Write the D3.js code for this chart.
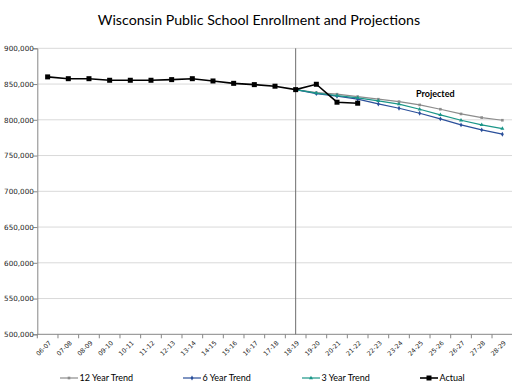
<!DOCTYPE html>
<html>
<head>
<meta charset="utf-8">
<script src="https://cdnjs.cloudflare.com/ajax/libs/d3/7.8.5/d3.min.js"></script>
<style>
  html, body { margin: 0; padding: 0; background: #fff; }
  svg { display: block; }
</style>
</head>
<body>
<svg id="chart" width="512" height="390"></svg>
<script>
// Data (thousands of students)
const years = ["06-07","07-08","08-09","09-10","10-11","11-12","12-13","13-14","14-15","15-16","16-17","17-18","18-19",
  "19-20","20-21","21-22","22-23","23-24","24-25","25-26","26-27","27-28","28-29"];
const actual = [860, 857.5, 857.5, 855.3, 855.3, 855.3, 856.2, 857.5, 854.3, 851, 849.2, 847, 842.2, 849.7, 824.6, 823.2];
const projStart = "18-19";
const projYears = ["18-19","19-20","20-21","21-22","22-23","23-24","24-25","25-26","26-27","27-28","28-29"];
const trend12 = [842.2, 838.0, 835.8, 832.4, 828.8, 825.4, 820.8, 814.8, 808.2, 803.1, 799.4];
const trend6  = [842.2, 836.6, 833.0, 828.8, 822.2, 816.2, 809.2, 801.3, 792.9, 785.9, 779.9];
const trend3  = [842.2, 837.2, 833.9, 830.6, 826.4, 821.8, 814.8, 806.8, 799.4, 792.9, 787.7];
const yTicks = [500, 550, 600, 650, 700, 750, 800, 850, 900];

const svg = d3.select("#chart");
const margin = { left: 37.3, right: -0.7, top: 48.3, bottom: 55.7 };
const W = 512, H = 390;
const iW = W - margin.left - margin.right;
const iH = H - margin.top - margin.bottom;

const x = d3.scaleBand().domain(years).range([margin.left, margin.left + iW]);
const xc = d => x(d) + x.bandwidth() / 2;
const y = d3.scaleLinear().domain([500, 900]).range([margin.top + iH, margin.top]);

// Title
svg.append("text").attr("x", 259).attr("y", 25)
  .attr("text-anchor", "middle").attr("font-family", "Lato, 'Open Sans', sans-serif")
  .attr("font-size", 14.2).attr("fill", "#000")
  .text("Wisconsin Public School Enrollment and Projections");

// Gridlines
svg.append("g").selectAll("line").data(yTicks.filter(t => t > 500)).join("line")
  .attr("x1", margin.left).attr("x2", margin.left + iW)
  .attr("y1", d => y(d)).attr("y2", d => y(d))
  .attr("stroke", "#d9d9d9").attr("stroke-width", 1);

// Y axis
const yAxis = d3.axisLeft(y).tickValues(yTicks).tickSize(4)
  .tickFormat(d => d3.format(",")(d * 1000));
const gy = svg.append("g").attr("transform", `translate(${margin.left},0)`).call(yAxis);
gy.select(".domain").attr("stroke", "#868686");
gy.selectAll(".tick line").attr("stroke", "#868686");
gy.selectAll(".tick text").attr("font-family", "'DejaVu Sans', sans-serif")
  .attr("font-size", 7.2).attr("fill", "#222").attr("x", -3.5).attr("dy", "0.32em");

// X axis
const gx = svg.append("g").attr("transform", `translate(0,${margin.top + iH})`);
gx.append("line").attr("x1", margin.left).attr("x2", margin.left + iW)
  .attr("stroke", "#868686");
gx.selectAll("line.tk").data(years).join("line").attr("class", "tk")
  .attr("x1", d => x(d)).attr("x2", d => x(d)).attr("y1", 0).attr("y2", 4)
  .attr("stroke", "#868686");
gx.selectAll("text").data(years).join("text")
  .attr("transform", d => `translate(${xc(d) + 4},${9}) rotate(-45)`)
  .attr("text-anchor", "end").attr("font-family", "'DejaVu Sans', sans-serif")
  .attr("font-size", 6.3).attr("fill", "#222").text(d => d);

// Divider at start of projections
svg.append("line").attr("x1", xc(projStart)).attr("x2", xc(projStart))
  .attr("y1", margin.top).attr("y2", margin.top + iH)
  .attr("stroke", "#6e6e6e").attr("stroke-width", 1);

const line = d3.line().x(d => xc(d[0])).y(d => y(d[1]));

const series = [
  { name: "12 Year Trend", vals: trend12, color: "#8c8c8c", marker: "square" },
  { name: "6 Year Trend", vals: trend6, color: "#2a4f9a", marker: "diamond" },
  { name: "3 Year Trend", vals: trend3, color: "#1a9688", marker: "triangle" }
];

function marker(g, type, cx, cy, color, s) {
  const sym = { square: d3.symbolSquare, diamond: d3.symbolDiamond, triangle: d3.symbolTriangle }[type];
  g.append("path").attr("d", d3.symbol(sym, s)()).attr("transform", `translate(${cx},${cy})`)
    .attr("fill", color);
}

series.forEach(s => {
  const pts = projYears.map((yr, i) => [yr, s.vals[i]]);
  svg.append("path").datum(pts).attr("d", line)
    .attr("fill", "none").attr("stroke", s.color).attr("stroke-width", 1.2);
  const g = svg.append("g");
  pts.slice(1).forEach(p => marker(g, s.marker, xc(p[0]), y(p[1]), s.color, 7));
});

// Actual
const actPts = actual.map((v, i) => [years[i], v]);
svg.append("path").datum(actPts).attr("d", line)
  .attr("fill", "none").attr("stroke", "#000").attr("stroke-width", 1.6);
svg.append("g").selectAll("rect").data(actPts).join("rect")
  .attr("x", d => xc(d[0]) - 2.5).attr("y", d => y(d[1]) - 2.5)
  .attr("width", 5).attr("height", 5).attr("fill", "#000");

// Projected label
svg.append("text").attr("x", 416).attr("y", 97)
  .attr("font-family", "Lato, 'Open Sans', sans-serif").attr("font-weight", "bold")
  .attr("font-size", 9).attr("fill", "#000").text("Projected");

// Legend
const legend = [
  { name: "12 Year Trend", color: "#8c8c8c", marker: "square", x: 60 },
  { name: "6 Year Trend", color: "#2a4f9a", marker: "diamond", x: 183 },
  { name: "3 Year Trend", color: "#1a9688", marker: "triangle", x: 302 },
  { name: "Actual", color: "#000", marker: "actual", x: 420 }
];
const lg = svg.append("g");
legend.forEach(l => {
  const ly = 378;
  lg.append("line").attr("x1", l.x).attr("x2", l.x + 18).attr("y1", ly).attr("y2", ly)
    .attr("stroke", l.color).attr("stroke-width", l.marker === "actual" ? 1.6 : 1.2);
  if (l.marker === "actual") {
    lg.append("rect").attr("x", l.x + 6.5).attr("y", ly - 2.5).attr("width", 5).attr("height", 5).attr("fill", "#000");
  } else {
    marker(lg, l.marker, l.x + 9, ly, l.color, 7);
  }
  lg.append("text").attr("x", l.x + 19.5).attr("y", ly + 3.3)
    .attr("font-family", "Lato, 'Open Sans', sans-serif").attr("font-size", 9)
    .attr("fill", "#000").text(l.name);
});
</script>
</body>
</html>
